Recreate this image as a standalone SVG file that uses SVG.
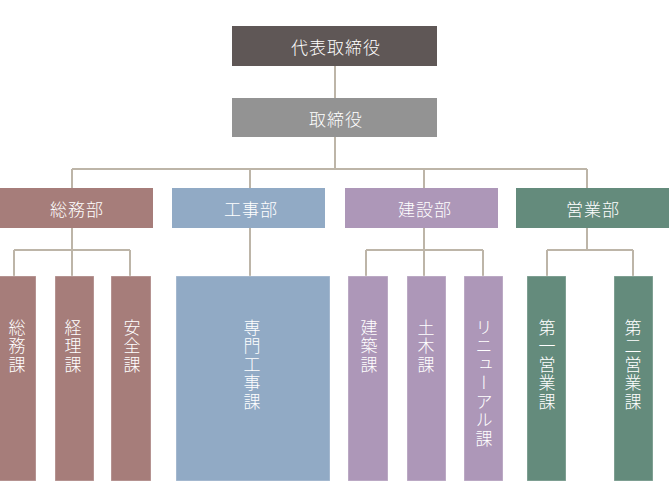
<svg xmlns="http://www.w3.org/2000/svg" width="669" height="481" viewBox="0 0 669 481">
<style>
.t{font-family:"Noto Sans CJK JP","Noto Sans CJK SC",sans-serif;font-size:17px;font-weight:300;fill:#ffffff;text-anchor:middle;dominant-baseline:central;letter-spacing:1px}
.v{font-family:"Noto Sans CJK JP","Noto Sans CJK SC",sans-serif;font-size:17px;font-weight:300;fill:#ffffff;writing-mode:vertical-rl;letter-spacing:1.5px}
.b{stroke:rgba(255,255,255,0.35);stroke-width:1}
.c{fill:none;stroke:#bdb5a8;stroke-width:2}
</style>
<rect width="669" height="481" fill="#ffffff"/>
<g id="connectors">
<path class="c" d="M335 66V98M335 137V169M72 169H587M72 169V188M250 169V188M424 169V188M587 169V188"/>
<path class="c" d="M72 228V250M14 250H130M14 250V276M72 250V276M130 250V276"/>
<path class="c" d="M250 228V276"/>
<path class="c" d="M424 228V250M366 250H483M366 250V276M424 250V276M483 250V276"/>
<path class="c" d="M587 228V250M547 250H633M547 250V276M633 250V276"/>
</g>
<g id="n-ceo"><rect x="232" y="26" width="205" height="40" fill="#5f5756"/><text class="t" x="336" y="46">代表取締役</text></g>
<g id="n-dir"><rect x="232" y="98" width="205" height="39" fill="#939393"/><text class="t" x="336" y="118">取締役</text></g>
<g id="n-somubu"><rect x="0" y="188" width="153" height="40" fill="#a67d7a"/><text class="t" x="77" y="208">総務部</text></g>
<g id="n-kojibu"><rect x="172" y="188" width="153" height="40" fill="#91aac5"/><text class="t" x="251" y="208">工事部</text></g>
<g id="n-kensetsubu"><rect x="345" y="188" width="153" height="40" fill="#ad97b8"/><text class="t" x="425" y="208">建設部</text></g>
<g id="n-eigyobu"><rect x="516" y="188" width="153" height="40" fill="#648b7c"/><text class="t" x="593" y="208">営業部</text></g>
<g id="n-somuka"><rect class="b" x="-1" y="276" width="37" height="205" fill="#a67d7a"/><text class="v" x="17" y="319">総務課</text></g>
<g id="n-keirika"><rect class="b" x="55" y="276" width="39" height="205" fill="#a67d7a"/><text class="v" x="73" y="319">経理課</text></g>
<g id="n-anzenka"><rect class="b" x="111" y="276" width="40" height="205" fill="#a67d7a"/><text class="v" x="132" y="319">安全課</text></g>
<g id="n-senmon"><rect class="b" x="176" y="276" width="154" height="205" fill="#91aac5"/><text class="v" x="252" y="319">専門工事課</text></g>
<g id="n-kenchiku"><rect class="b" x="348" y="276" width="40" height="205" fill="#ad97b8"/><text class="v" x="369" y="319">建築課</text></g>
<g id="n-doboku"><rect class="b" x="407" y="276" width="39" height="205" fill="#ad97b8"/><text class="v" x="426" y="319">土木課</text></g>
<g id="n-renewal"><rect class="b" x="464" y="276" width="39" height="205" fill="#ad97b8"/><text class="v" x="484" y="319">リニューアル課</text></g>
<g id="n-eigyo1"><rect class="b" x="527" y="276" width="39" height="205" fill="#648b7c"/><text class="v" x="547" y="319">第一営業課</text></g>
<g id="n-eigyo2"><rect class="b" x="614" y="276" width="39" height="205" fill="#648b7c"/><text class="v" x="633" y="319">第二営業課</text></g>
</svg>
